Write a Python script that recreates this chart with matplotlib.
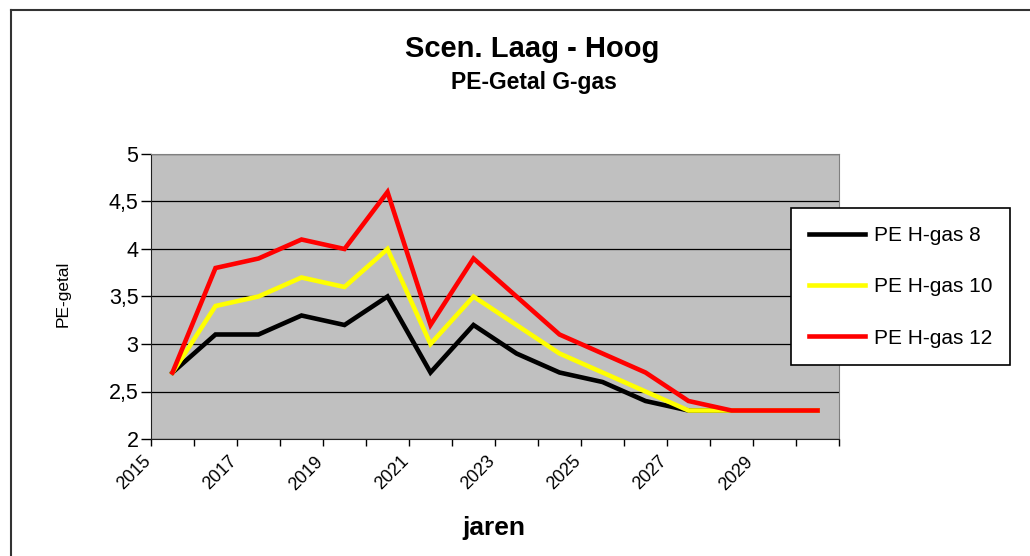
import numpy as np
import matplotlib
matplotlib.use('Agg')
import matplotlib.pyplot as plt
import matplotlib.transforms as mtransforms
from matplotlib.lines import Line2D

# =============================================================================
# Data
# =============================================================================

years = list(range(2015, 2031))
pe_8 = [2.7, 3.1, 3.1, 3.3, 3.2, 3.5, 2.7, 3.2, 2.9, 2.7, 2.6, 2.4, 2.3, 2.3, 2.3, 2.3]
pe_10 = [2.7, 3.4, 3.5, 3.7, 3.6, 4.0, 3.0, 3.5, 3.2, 2.9, 2.7, 2.5, 2.3, 2.3, 2.3, 2.3]
pe_12 = [2.7, 3.8, 3.9, 4.1, 4.0, 4.6, 3.2, 3.9, 3.5, 3.1, 2.9, 2.7, 2.4, 2.3, 2.3, 2.3]

y_ticks = [2, 2.5, 3, 3.5, 4, 4.5, 5]
y_ticklabels = ['2', '2,5', '3', '3,5', '4', '4,5', '5']

# =============================================================================
# Plotting
# =============================================================================

plt.rcParams['font.family'] = ['Liberation Sans', 'DejaVu Sans']

fig = plt.figure(figsize=(10.3, 5.56), dpi=100)
ax = fig.add_axes([151/1030, 1-439/556, 688/1030, 285/556])
ax.set_facecolor('#c0c0c0')

x = np.arange(len(years))
ax.plot(x, pe_8, color='black', lw=3.3, label='PE H-gas 8', solid_joinstyle='miter')
ax.plot(x, pe_10, color='#ffff00', lw=3.3, label='PE H-gas 10', solid_joinstyle='miter')
ax.plot(x, pe_12, color='#ff0000', lw=3.3, label='PE H-gas 12', solid_joinstyle='miter')

ax.set_xlim(-0.5, len(years) - 0.5)
ax.set_ylim(2, 5)
ax.set_yticks(y_ticks)
ax.set_yticklabels(y_ticklabels, fontsize=15.5)
ax.tick_params(axis='y', length=7, width=1, pad=2, colors='black')
ax.yaxis.grid(True, color='black', lw=0.9)
ax.set_axisbelow(True)

# category boundaries as tick marks, labels every other year
ax.set_xticks(np.arange(-0.5, len(years)), minor=True)
ax.set_xticks(x[::2])
ax.set_xticklabels([str(y) for y in years[::2]], rotation=45, ha='right', va='top', fontsize=13)
ax.tick_params(axis='x', which='major', length=0, pad=10)
ax.tick_params(axis='x', which='minor', length=5, width=1)
offset = mtransforms.ScaledTranslation(-18/100, 0, fig.dpi_scale_trans)
for lab in ax.get_xticklabels():
    lab.set_transform(lab.get_transform() + offset)

for s in ['top', 'right']:
    ax.spines[s].set_color('#808080')
for s in ['left', 'bottom']:
    ax.spines[s].set_color('#202020')

fig.text(532/1030, 1-57/556, 'Scen. Laag - Hoog', ha='center', va='baseline',
         fontsize=21, fontweight='bold')
fig.text(534/1030, 1-89/556, 'PE-Getal G-gas', ha='center', va='baseline',
         fontsize=16.5, fontweight='bold')
fig.text(494/1030, 1-535/556, 'jaren', ha='center', va='baseline',
         fontsize=19, fontweight='bold')
fig.text(63/1030, 1-294/556, 'PE-getal', ha='center', va='center',
         rotation=90, fontsize=12.5)

leg = fig.legend(loc='upper left', bbox_to_anchor=(781/1030, 1-198/556), fontsize=15,
                 handlelength=2.7, handletextpad=0.4, labelspacing=1.55,
                 borderpad=0.85, fancybox=False, framealpha=1, edgecolor='black')
leg.get_frame().set_linewidth(1.2)

# chart border
fig.add_artist(Line2D([11/1030, 11/1030], [0, 1-10/556], transform=fig.transFigure,
                      color='#333333', lw=1.5))
fig.add_artist(Line2D([11/1030, 1], [1-10/556, 1-10/556], transform=fig.transFigure,
                      color='#333333', lw=1.5))

plt.savefig('out.png', dpi=100)
